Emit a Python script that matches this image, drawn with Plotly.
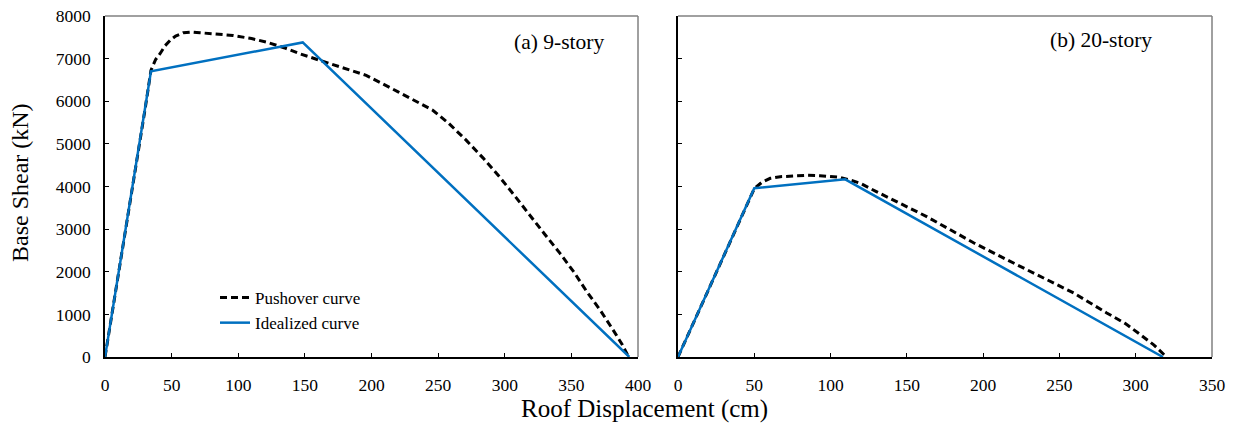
import plotly.graph_objects as go

# ---- data ----
push9_x = [0, 10, 20, 30, 34.5, 38, 41.3, 45, 48.8, 53, 58.8, 65, 71.3, 85, 96, 110, 121, 135, 146, 170, 196, 220, 246, 258, 271, 284, 296, 308, 319, 330, 341.5, 352, 361, 372, 381, 388, 393]
push9_y = [0, 1900, 3800, 5800, 6725, 6980, 7116, 7300, 7427, 7530, 7607, 7625, 7607, 7580, 7544, 7470, 7388, 7250, 7116, 6870, 6608, 6220, 5789, 5480, 5088, 4660, 4229, 3760, 3310, 2880, 2430, 1990, 1560, 1080, 650, 300, 0]
ideal9_x = [0, 34.5, 148.4, 393.5]
ideal9_y = [0, 6702, 7380, 0]

push20_x = [0, 25, 50, 55, 60.5, 67, 75.8, 85, 93, 100, 106, 112, 119.5, 130, 141, 152, 163, 178, 193.7, 215.6, 237.4, 259.3, 281, 293, 303, 312, 319]
push20_y = [0, 1980, 3950, 4100, 4192, 4230, 4253, 4262, 4253, 4240, 4215, 4160, 4075, 3880, 3684, 3490, 3294, 2994, 2680, 2281, 1890, 1502, 1034, 790, 526, 280, 40]
ideal20_x = [0, 50, 109.6, 317.8]
ideal20_y = [0, 3958, 4168, 0]

x_ticks_a = [0, 50, 100, 150, 200, 250, 300, 350, 400]
x_ticks_b = [0, 50, 100, 150, 200, 250, 300, 350]
y_ticks = [0, 1000, 2000, 3000, 4000, 5000, 6000, 7000, 8000]

BLUE = "#0070C0"
FONT = "Liberation Serif, Times New Roman, serif"

W, H = 1233, 423
TOP, BOT = 16, 357
PH = BOT - TOP


def px(x):
    return x / W


def py(y):
    return 1 - (y - TOP) / PH


fig = go.Figure()
fig.add_trace(go.Scatter(x=push9_x, y=push9_y, mode="lines", name="Pushover curve",
                         line=dict(color="black", width=3, dash="7px,4px"), xaxis="x", yaxis="y"))
fig.add_trace(go.Scatter(x=ideal9_x, y=ideal9_y, mode="lines", name="Idealized curve",
                         line=dict(color=BLUE, width=2.5), xaxis="x", yaxis="y"))
fig.add_trace(go.Scatter(x=push20_x, y=push20_y, mode="lines", showlegend=False,
                         line=dict(color="black", width=3, dash="7px,4px"), xaxis="x2", yaxis="y2"))
fig.add_trace(go.Scatter(x=ideal20_x, y=ideal20_y, mode="lines", showlegend=False,
                         line=dict(color=BLUE, width=2.5), xaxis="x2", yaxis="y2"))

d1 = [px(105), px(638)]
d2 = [px(678), px(1212)]

axis_common = dict(showgrid=False, zeroline=False, showline=True, linecolor="black", linewidth=1.5,
                   ticks="inside", ticklen=4, tickcolor="black", tickwidth=1,
                   tickfont=dict(family=FONT, size=17.5, color="black"), automargin=False,
                   ticklabeloverflow="allow")

fig.update_layout(
    template="none",
    width=W, height=H,
    margin=dict(l=0, r=0, t=TOP, b=H - BOT),
    paper_bgcolor="white", plot_bgcolor="white",
    font=dict(family=FONT, color="black"),
    xaxis=dict(domain=d1, range=[0, 400], tickvals=x_ticks_a, anchor="y", ticklabelstandoff=11, **axis_common),
    yaxis=dict(domain=[0, 1], range=[0, 8000], tickvals=y_ticks, anchor="x", ticklabelstandoff=9, **axis_common),
    xaxis2=dict(domain=d2, range=[0, 350], tickvals=x_ticks_b, anchor="y2", ticklabelstandoff=11, **axis_common),
    yaxis2=dict(domain=[0, 1], range=[0, 8000], tickvals=y_ticks, anchor="x2", showticklabels=False, **axis_common),
    legend=dict(x=px(215), y=py(280), xref="paper", yref="paper", xanchor="left", yanchor="top",
                bgcolor="rgba(0,0,0,0)", font=dict(family=FONT, size=17, color="black"),
                itemwidth=30),
    showlegend=True,
)

# frame lines (top and right borders)
for xr, yr in [("x", "y"), ("x2", "y2")]:
    fig.add_shape(type="line", xref=f"{xr} domain", yref=f"{yr} domain", x0=0, x1=1, y0=1, y1=1,
                  line=dict(color="#808080", width=1.5))
    fig.add_shape(type="line", xref=f"{xr} domain", yref=f"{yr} domain", x0=1, x1=1, y0=0, y1=1,
                  line=dict(color="#808080", width=1.5))

fig.add_annotation(text="(a) 9-story", xref="paper", yref="paper", x=px(606), y=py(42),
                   xanchor="right", yanchor="middle", showarrow=False, font=dict(family=FONT, size=21.5, color="black"))
fig.add_annotation(text="(b) 20-story", xref="paper", yref="paper", x=px(1154), y=py(40),
                   xanchor="right", yanchor="middle", showarrow=False, font=dict(family=FONT, size=21.5, color="black"))

fig.add_annotation(text="Base Shear (kN)", xref="paper", yref="paper", x=px(20), y=py(183),
                   textangle=-90, showarrow=False, xanchor="center", yanchor="middle",
                   font=dict(family=FONT, size=24, color="black"))
fig.add_annotation(text="Roof Displacement (cm)", xref="paper", yref="paper", x=px(644), y=py(409),
                   showarrow=False, xanchor="center", yanchor="middle",
                   font=dict(family=FONT, size=25, color="black"))

fig.write_html("out.html", config={"displayModeBar": False},
               post_script="document.body.style.margin='0px';")
